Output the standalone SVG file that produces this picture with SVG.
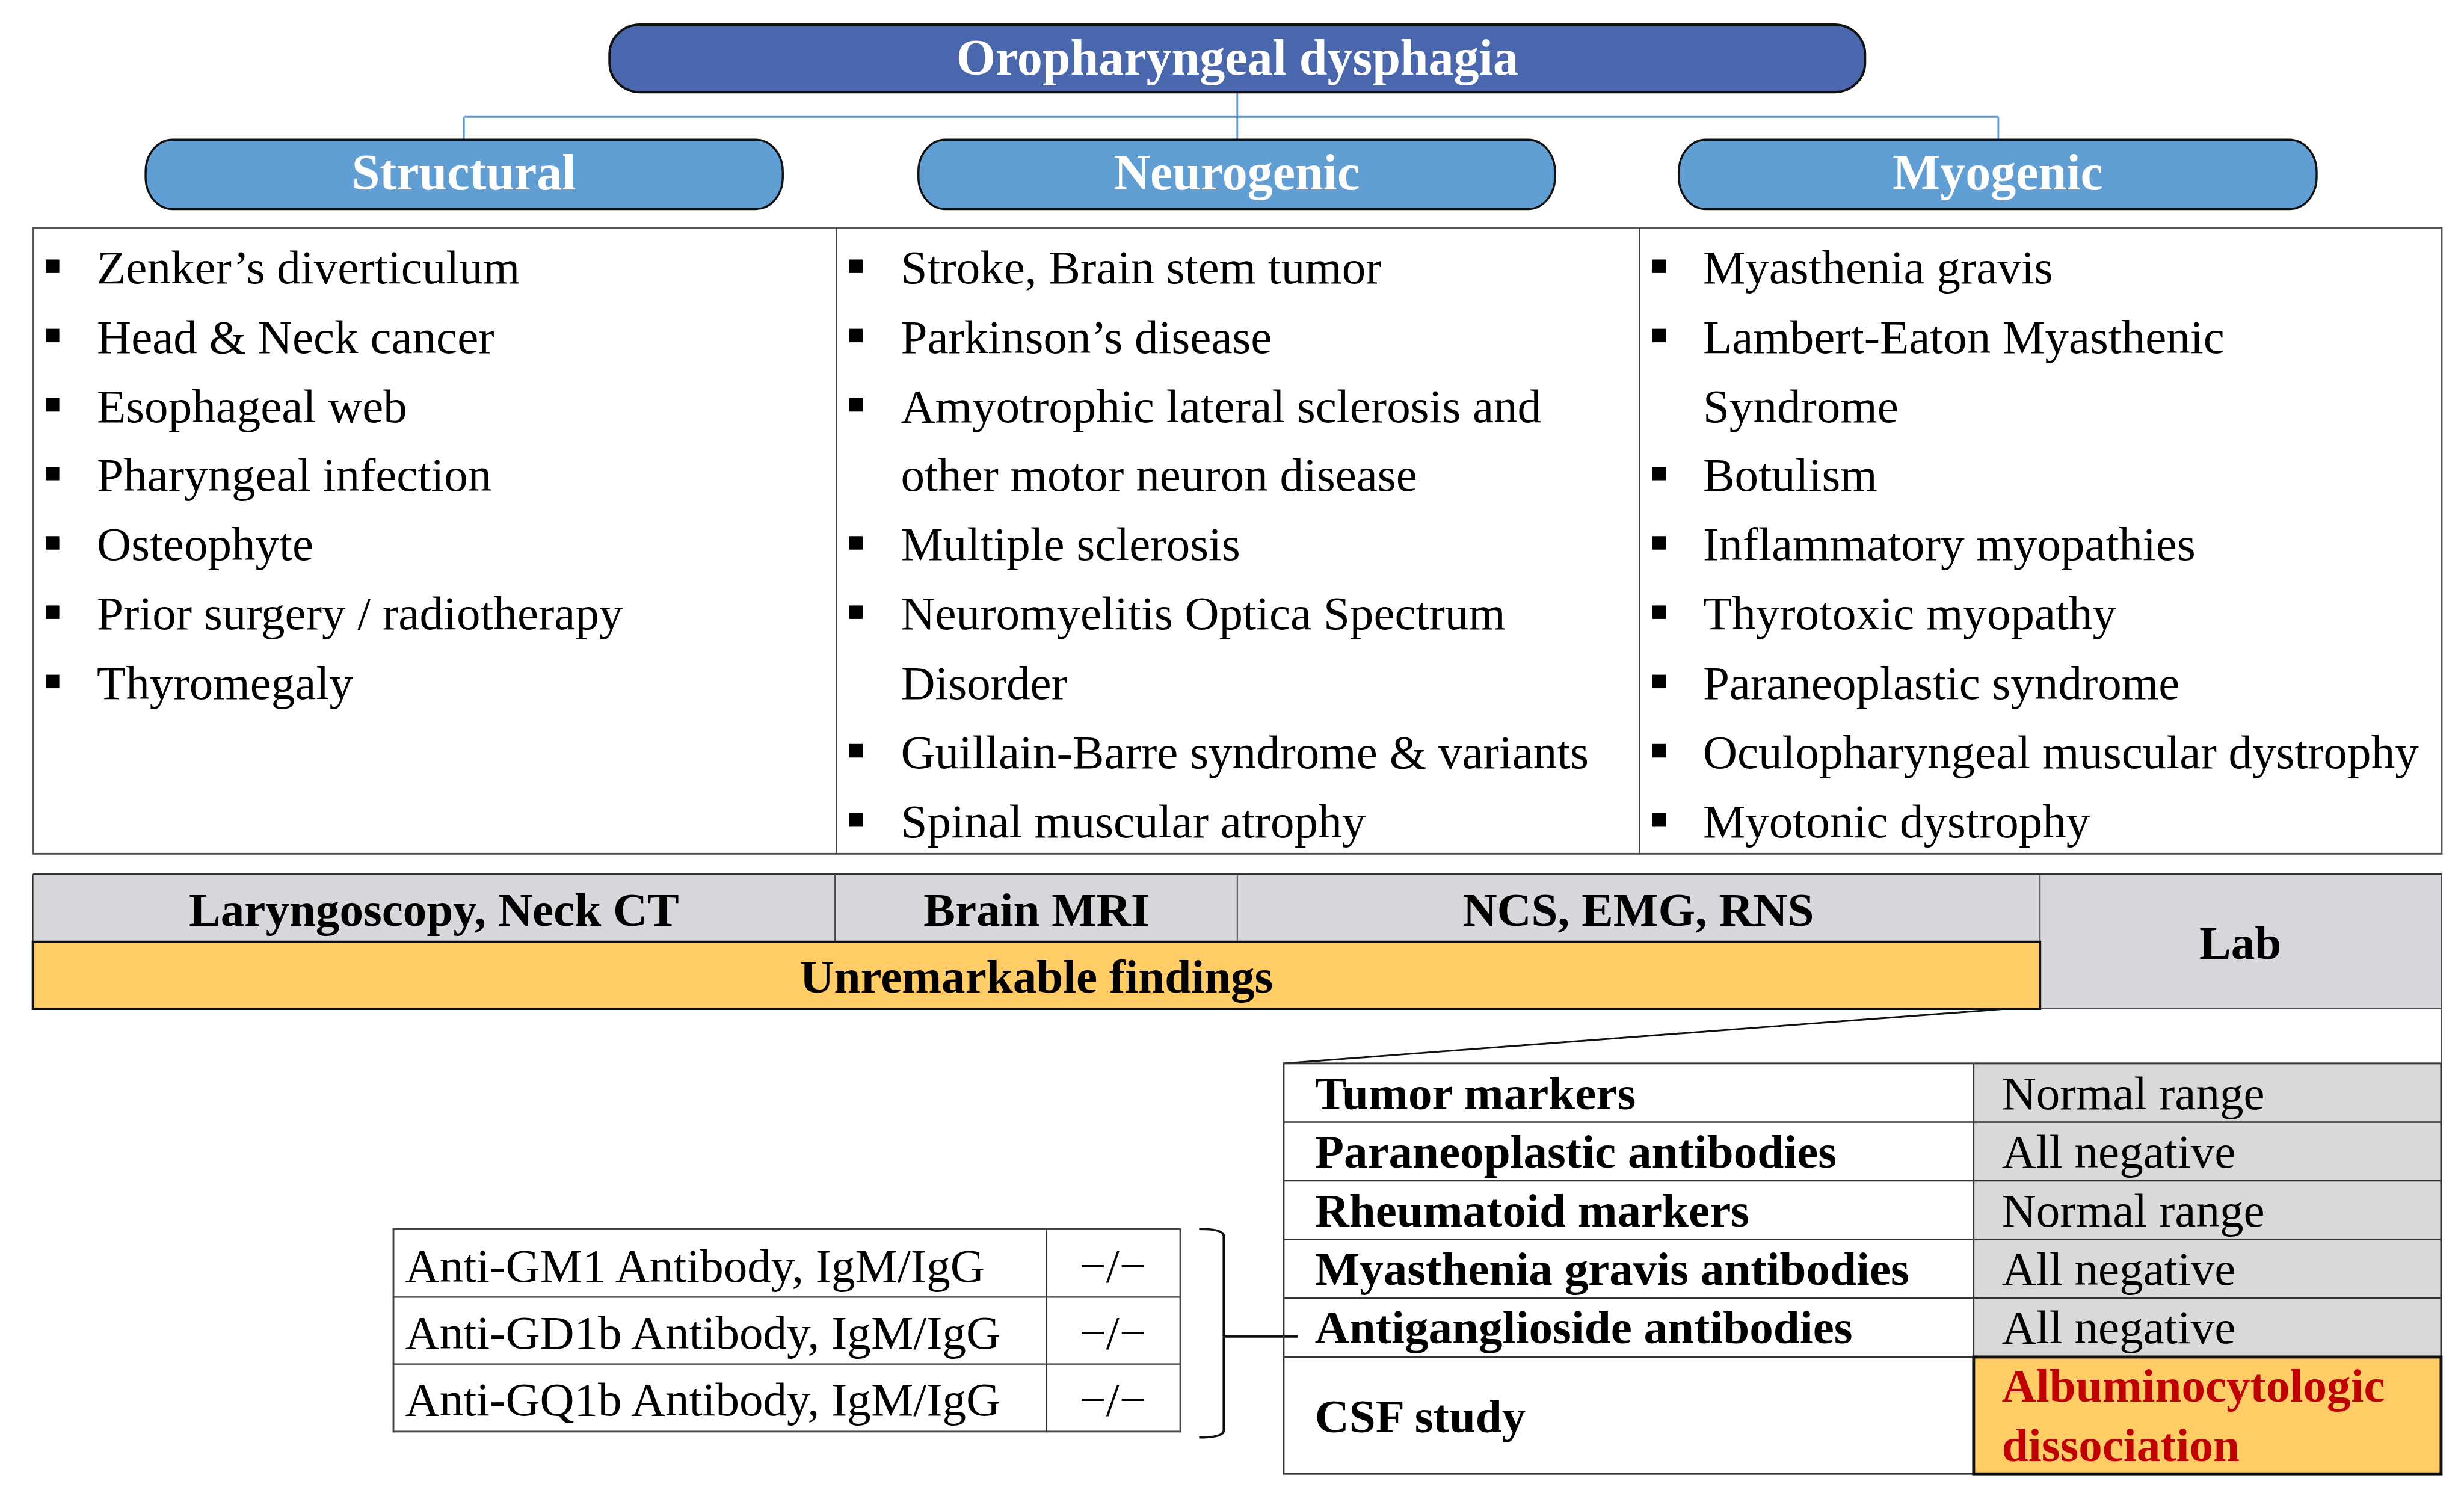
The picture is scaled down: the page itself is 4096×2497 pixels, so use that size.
<svg xmlns="http://www.w3.org/2000/svg" width="4096" height="2497" viewBox="0 0 4096 2497">
<style>
.t{font-family:"Liberation Serif","Times New Roman",serif;font-size:81px;fill:#000}
.b{font-weight:bold}
.h{font-family:"Liberation Serif","Times New Roman",serif;font-size:86px;font-weight:bold;fill:#fff;text-anchor:middle}
.m{text-anchor:middle}
.bl{fill:#000}
.conn{stroke:#5B9BD5;stroke-width:3;fill:none}
.grid{stroke:#555;stroke-width:3;fill:none}
.thin{stroke:#444;stroke-width:2;fill:none}
.sub{fill:#619ED4;stroke:#111;stroke-width:3.5}
</style>
<defs>
<rect id="bul" width="23" height="23" class="bl"/>
</defs>
<rect width="4096" height="2497" fill="#fff"/>
<g transform="scale(0.97617)">
<g id="connectors">
<path class="conn" d="M2107 157V238M790 199H3403M790 199V238M3403 199V238"/>
<path d="M3417 1718L2186 1811" stroke="#111" stroke-width="3" fill="none"/>
<path d="M4157 1718V1811" stroke="#444" stroke-width="2" fill="none"/>
<path d="M2042 2093Q2084 2093 2084 2105V2436Q2084 2448 2042 2448" stroke="#111" stroke-width="4" fill="none"/>
<path d="M2084 2276H2210" stroke="#111" stroke-width="4" fill="none"/>
</g>
<g id="title">
<rect x="1038" y="42" width="2138" height="115" rx="52" ry="50" fill="#4A66AC" stroke="#111" stroke-width="4"/>
<text class="h" x="2107" y="127" textLength="957" lengthAdjust="spacingAndGlyphs">Oropharyngeal dysphagia</text>
</g>
<g id="structural">
<rect class="sub" x="248" y="238" width="1085" height="118" rx="46" ry="54"/>
<text class="h" x="790" y="323">Structural</text>
</g>
<g id="neurogenic">
<rect class="sub" x="1564" y="238" width="1084" height="118" rx="46" ry="54"/>
<text class="h" x="2106" y="323">Neurogenic</text>
</g>
<g id="myogenic">
<rect class="sub" x="2859" y="238" width="1086" height="118" rx="46" ry="54"/>
<text class="h" x="3402" y="323">Myogenic</text>
</g>
<g id="causes-table">
<rect class="grid" x="56" y="388" width="4102" height="1066"/>
<path class="thin" d="M1424 388V1454M2792 388V1454"/>
<g id="col-structural">
<use href="#bul" x="78" y="442"/><text class="t" x="165" y="483">Zenker’s diverticulum</text>
<use href="#bul" x="78" y="560"/><text class="t" x="165" y="601">Head &amp; Neck cancer</text>
<use href="#bul" x="78" y="678"/><text class="t" x="165" y="719">Esophageal web</text>
<use href="#bul" x="78" y="795"/><text class="t" x="165" y="836">Pharyngeal infection</text>
<use href="#bul" x="78" y="913"/><text class="t" x="165" y="954">Osteophyte</text>
<use href="#bul" x="78" y="1031"/><text class="t" x="165" y="1072">Prior surgery / radiotherapy</text>
<use href="#bul" x="78" y="1149"/><text class="t" x="165" y="1190">Thyromegaly</text>
</g>
<g id="col-neurogenic">
<use href="#bul" x="1446" y="442"/><text class="t" x="1534" y="483">Stroke, Brain stem tumor</text>
<use href="#bul" x="1446" y="560"/><text class="t" x="1534" y="601">Parkinson’s disease</text>
<use href="#bul" x="1446" y="678"/><text class="t" x="1534" y="719">Amyotrophic lateral sclerosis and</text>
<text class="t" x="1534" y="836">other motor neuron disease</text>
<use href="#bul" x="1446" y="913"/><text class="t" x="1534" y="954">Multiple sclerosis</text>
<use href="#bul" x="1446" y="1031"/><text class="t" x="1534" y="1072">Neuromyelitis Optica Spectrum</text>
<text class="t" x="1534" y="1190">Disorder</text>
<use href="#bul" x="1446" y="1267"/><text class="t" x="1534" y="1308">Guillain-Barre syndrome &amp; variants</text>
<use href="#bul" x="1446" y="1385"/><text class="t" x="1534" y="1426">Spinal muscular atrophy</text>
</g>
<g id="col-myogenic">
<use href="#bul" x="2814" y="442"/><text class="t" x="2900" y="483">Myasthenia gravis</text>
<use href="#bul" x="2814" y="560"/><text class="t" x="2900" y="601">Lambert-Eaton Myasthenic</text>
<text class="t" x="2900" y="719">Syndrome</text>
<use href="#bul" x="2814" y="795"/><text class="t" x="2900" y="836">Botulism</text>
<use href="#bul" x="2814" y="913"/><text class="t" x="2900" y="954">Inflammatory myopathies</text>
<use href="#bul" x="2814" y="1031"/><text class="t" x="2900" y="1072">Thyrotoxic myopathy</text>
<use href="#bul" x="2814" y="1149"/><text class="t" x="2900" y="1190">Paraneoplastic syndrome</text>
<use href="#bul" x="2814" y="1267"/><text class="t" x="2900" y="1308">Oculopharyngeal muscular dystrophy</text>
<use href="#bul" x="2814" y="1385"/><text class="t" x="2900" y="1426">Myotonic dystrophy</text>
</g>
</g>
<g id="workup">
<rect x="56" y="1489" width="3418" height="115" fill="#D9D6DC"/>
<rect x="3474" y="1489" width="684" height="229" fill="#D9D6DC" stroke="#444" stroke-width="2"/>
<path d="M56 1489H4158" stroke="#333" stroke-width="3"/>
<path d="M56 1489V1604" stroke="#333" stroke-width="2"/>
<path class="thin" d="M1422 1489V1604M2107 1489V1604"/>
<rect x="56" y="1604" width="3418" height="114" fill="#FFCC66" stroke="#111" stroke-width="4"/>
<text class="t b m" x="739" y="1577">Laryngoscopy, Neck CT</text>
<text class="t b m" x="1765" y="1577">Brain MRI</text>
<text class="t b m" x="2790" y="1577">NCS, EMG, RNS</text>
<text class="t b m" x="1765" y="1690">Unremarkable findings</text>
<text class="t b m" x="3815" y="1633">Lab</text>
</g>
<g id="lab-table">
<rect x="3361" y="1811" width="796" height="500" fill="#D9D9D9"/>
<rect x="2186" y="1811" width="1971" height="699" fill="none" stroke="#333" stroke-width="3"/>
<path d="M2186 1911H4157M2186 2011H4157M2186 2111H4157M2186 2211H4157M2186 2311H3361M3361 1811V2510" stroke="#333" stroke-width="2.5" fill="none"/>
<rect x="3361" y="2311" width="796" height="199" fill="#FFCC66" stroke="#111" stroke-width="5"/>
<text class="t b" x="2239" y="1889">Tumor markers</text>
<text class="t" x="3409" y="1889">Normal range</text>
<text class="t b" x="2239" y="1988">Paraneoplastic antibodies</text>
<text class="t" x="3409" y="1988">All negative</text>
<text class="t b" x="2239" y="2089">Rheumatoid markers</text>
<text class="t" x="3409" y="2089">Normal range</text>
<text class="t b" x="2239" y="2188">Myasthenia gravis antibodies</text>
<text class="t" x="3409" y="2188">All negative</text>
<text class="t b" x="2239" y="2288">Antiganglioside antibodies</text>
<text class="t" x="3409" y="2288">All negative</text>
<text class="t b" x="2239" y="2439">CSF study</text>
<text class="t b" x="3409" y="2387" style="fill:#C00000">Albuminocytologic</text>
<text class="t b" x="3409" y="2488" style="fill:#C00000">dissociation</text>
</g>
<g id="antibody-table">
<rect x="670" y="2093" width="1340" height="345" fill="#fff" stroke="#444" stroke-width="3"/>
<path d="M670 2209H2010M670 2323H2010M1782 2093V2438" stroke="#333" stroke-width="2.5" fill="none"/>
<text class="t" x="690" y="2183">Anti-GM1 Antibody, IgM/IgG</text>
<text class="t m" x="1895" y="2183">−/−</text>
<text class="t" x="690" y="2297">Anti-GD1b Antibody, IgM/IgG</text>
<text class="t m" x="1895" y="2297">−/−</text>
<text class="t" x="690" y="2410">Anti-GQ1b Antibody, IgM/IgG</text>
<text class="t m" x="1895" y="2410">−/−</text>
</g>
</g>
</svg>
